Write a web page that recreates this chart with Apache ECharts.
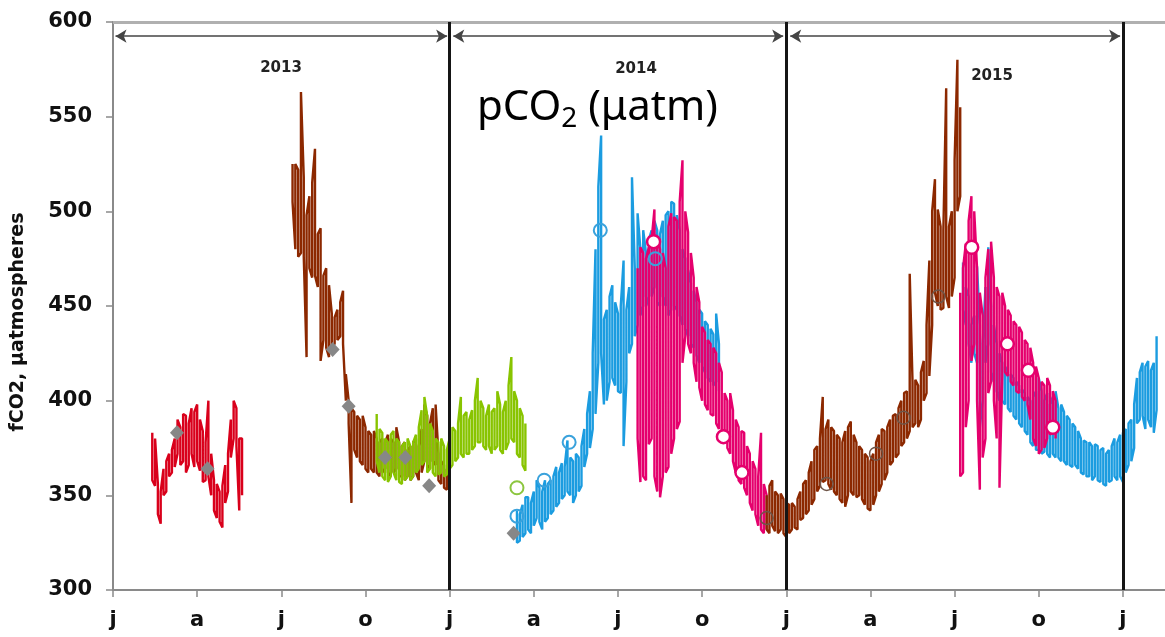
<!DOCTYPE html>
<html lang="en">
<head>
<meta charset="UTF-8">
<title>fCO2</title>
<script src="https://cdn.jsdelivr.net/npm/echarts@6/dist/echarts.min.js"></script>
<style>
    html, body { margin: 0; padding: 0; background: #fff; }
    #chart { width: 1165px; height: 637px; }
</style>
</head>
<body>
<div id="chart"></div>
<script>
// x = months since January 2013; each record gives the high and low of the trace every 0.1 month
const step = 0.1;
const monthLabels = ['j', 'a', 'j', 'o'];
const yearLabels = ['2013', '2014', '2015'];

const red2013Start = 1.4;
const red2013Hi = [383, 380, 356, 352, 364, 368, 372, 374, 380, 390, 386, 393, 392, 388, 396, 394, 398, 390, 384, 378,
    400, 372, 358, 356, 352, 355, 366, 372, 390, 400, 396, 380, 380];
const red2013Lo = [358, 355, 340, 335, 350, 352, 360, 362, 365, 372, 366, 368, 362, 366, 372, 365, 368, 363, 357, 358,
    360, 350, 342, 338, 336, 333, 346, 352, 370, 380, 376, 342, 350];

const brown2013Start = 6.4;
const brown2013Hi = [525, 525, 522, 563, 518, 498, 508, 515, 533, 488, 491, 466, 470, 461, 446, 444, 448, 452, 458, 414,
    400, 396, 394, 392, 390, 392, 386, 384, 382, 384, 380, 378, 380, 378, 382, 380, 378, 386, 378, 376,
    378, 374, 376, 378, 380, 376, 385, 398, 392, 388, 396, 398, 372, 368, 366, 364];
const brown2013Lo = [505, 480, 476, 478, 476, 423, 470, 465, 466, 460, 421, 432, 428, 423, 428, 430, 432, 434, 430, 400,
    388, 346, 374, 370, 368, 366, 364, 362, 364, 362, 362, 360, 362, 364, 362, 360, 362, 364, 360, 360,
    358, 360, 358, 360, 362, 358, 362, 368, 366, 364, 368, 366, 358, 356, 354, 353];

const green2013Start = 9.4;
const green2013Hi = [393, 385, 383, 380, 378, 382, 384, 380, 378, 376, 378, 380, 376, 378, 382, 386, 395, 402, 392, 388,
    384, 380, 378, 380, 376, 374, 380, 386, 384, 388, 402, 392, 394, 390, 395, 400, 412, 400, 396, 392,
    398, 394, 396, 405, 398, 394, 400, 408, 423, 405, 400, 396, 392, 388];
const green2013Lo = [368, 362, 360, 358, 357, 360, 362, 358, 357, 356, 358, 360, 358, 360, 362, 364, 366, 368, 362, 364,
    362, 360, 361, 362, 360, 361, 364, 366, 368, 370, 372, 370, 372, 372, 374, 376, 378, 378, 376, 374,
    376, 372, 374, 376, 374, 372, 374, 378, 380, 378, 372, 370, 366, 363];

const blue2014Start = 14.4;
const blue2014Hi = [342, 340, 345, 349, 349, 346, 352, 358, 354, 352, 358, 356, 358, 360, 365, 362, 367, 365, 379, 370,
    368, 372, 370, 376, 385, 393, 405, 425, 480, 513, 540, 443, 448, 455, 461, 452, 446, 450, 474, 448,
    460, 518, 470, 499, 480, 490, 478, 485, 490, 495, 490, 488, 495, 498, 500, 505, 504, 498, 490, 480,
    475, 469, 462, 458, 452, 448, 446, 442, 440, 438, 435, 446, 430];
const blue2014Lo = [325, 326, 328, 330, 332, 330, 334, 338, 336, 332, 336, 338, 340, 342, 344, 346, 348, 350, 352, 350,
    346, 350, 352, 355, 365, 372, 375, 385, 393, 420, 425, 398, 400, 410, 412, 408, 405, 404, 376, 410,
    425, 430, 434, 440, 445, 450, 455, 450, 455, 460, 452, 450, 455, 450, 445, 448, 450, 448, 445, 440,
    438, 434, 430, 428, 424, 420, 418, 415, 412, 410, 408, 410, 405];

const magenta2014Start = 18.7;
const magenta2014Hi = [470, 481, 478, 475, 481, 485, 501, 487, 480, 478, 470, 492, 499, 497, 495, 505, 527, 500, 489, 478,
    465, 460, 452, 439, 436, 432, 430, 428, 425, 420, 415, 404, 400, 404, 395, 390, 386, 384, 383, 376,
    372, 368, 364, 360, 383, 356, 350];
const magenta2014Lo = [380, 357, 360, 358, 377, 380, 360, 352, 349, 360, 362, 365, 372, 380, 385, 389, 420, 434, 430, 425,
    420, 410, 407, 400, 398, 395, 393, 392, 388, 385, 381, 378, 375, 372, 368, 362, 358, 356, 354, 350,
    346, 342, 340, 334, 332, 330, 332];

const brown2015Start = 23.3;
const brown2015Hi = [350, 355, 358, 352, 350, 351, 348, 346, 345, 346, 344, 348, 352, 356, 358, 362, 368, 374, 376, 380,
    402, 385, 390, 386, 384, 382, 380, 378, 384, 386, 389, 382, 378, 376, 374, 372, 370, 368, 372, 378,
    382, 385, 384, 386, 390, 392, 393, 396, 400, 404, 405, 467, 410, 411, 408, 415, 421, 440, 474, 500,
    517, 501, 492, 490, 565, 492, 500, 527, 580, 555];
const brown2015Lo = [332, 330, 334, 331, 330, 332, 330, 328, 330, 332, 333, 332, 337, 338, 340, 342, 345, 348, 352, 355,
    357, 358, 356, 353, 352, 350, 348, 346, 344, 350, 352, 350, 349, 350, 348, 345, 343, 342, 345, 350,
    352, 356, 358, 362, 366, 368, 370, 372, 376, 378, 380, 384, 386, 388, 386, 390, 400, 404, 413, 440,
    457, 450, 448, 449, 455, 449, 455, 465, 500, 508];

const blue2015Start = 30.3;
const blue2015Hi = [473, 460, 455, 440, 445, 471, 440, 430, 460, 481, 450, 440, 430, 425, 420, 418, 415, 414, 412, 410,
    408, 406, 404, 402, 400, 402, 405, 412, 405, 400, 404, 398, 402, 405, 396, 398, 394, 392, 390, 388,
    386, 384, 380, 379, 378, 378, 376, 377, 376, 374, 375, 372, 374, 376, 380, 378, 382, 383, 385, 388,
    390, 398, 412, 415, 420, 418, 421, 416, 420, 434];
const blue2015Lo = [448, 440, 430, 420, 425, 420, 386, 400, 420, 430, 415, 410, 405, 400, 400, 398, 396, 394, 392, 390,
    388, 386, 384, 382, 378, 376, 374, 374, 372, 373, 372, 370, 372, 370, 370, 368, 368, 366, 366, 365,
    366, 364, 362, 361, 360, 360, 358, 360, 358, 357, 356, 355, 357, 358, 360, 358, 360, 357, 362, 366,
    368, 375, 388, 390, 392, 385, 390, 386, 383, 395];

const magenta2015Start = 30.2;
const magenta2015Hi = [457, 470, 483, 495, 508, 500, 470, 457, 445, 465, 480, 484, 465, 460, 455, 457, 450, 448, 445, 442,
    440, 439, 436, 432, 430, 428, 420, 418, 412, 410, 408, 412, 408, 405, 400];
const magenta2015Lo = [360, 362, 386, 400, 421, 430, 400, 353, 370, 380, 404, 410, 400, 380, 354, 413, 415, 413, 410, 408,
    405, 404, 402, 400, 398, 390, 380, 376, 372, 374, 375, 380, 382, 384, 380];

// discrete samples [month, value]
const grayDiamonds = [[2.28, 383], [3.37, 364], [7.83, 427], [8.4, 397], [9.7, 370], [10.42, 370], [11.27, 355], [14.28, 330]];
const greenCircles = [[14.4, 354]];
const blueCircles = [[14.4, 339], [15.37, 358], [16.26, 378], [17.37, 490], [19.33, 475]];
const magentaCircles = [[19.27, 484], [21.76, 381], [22.42, 362], [30.61, 481], [31.88, 430], [32.63, 416], [33.5, 386]];
const brownCircles = [[23.3, 338], [25.44, 356], [27.2, 372], [28.18, 391], [29.42, 455]];

const chart = echarts.init(document.getElementById('chart'));

// snake up and down through each high/low reading so the trace reads as a dense band
function band(start, hi, lo) {
    const pts = [];
    hi.forEach((h, i) => {
        const x = Math.round((start + i * step) * 100) / 100;
        if (i % 2 === 0) {
            pts.push([x, h], [x, lo[i]]);
        } else {
            pts.push([x, lo[i]], [x, h]);
        }
    });
    return pts;
}

function trace(name, color, start, hi, lo) {
    return {
        name: name,
        type: 'line',
        data: band(start, hi, lo),
        showSymbol: false,
        symbol: 'none',
        lineStyle: { color: color, width: 2.4 },
        itemStyle: { color: color },
        silent: true
    };
}

function circles(name, data, fill, stroke, width) {
    return {
        name: name,
        type: 'scatter',
        data: data,
        symbol: 'circle',
        symbolSize: 13,
        itemStyle: { color: fill, borderColor: stroke, borderWidth: width, opacity: 1 },
        silent: true,
        z: 4
    };
}

const arrowLine = (from, to) => [
    { coord: [from, 592.5], symbol: 'arrow', symbolSize: [10, 11] },
    { coord: [to, 592.5], symbol: 'arrow', symbolSize: [10, 11], lineStyle: { color: '#444', width: 1.5 } }
];
const yearLine = m => [{ coord: [m, 600] }, { coord: [m, 300], lineStyle: { color: '#151515', width: 3 } }];

const yearPos = [[281, 68], [636, 69], [992, 76]];

const option = {
    animation: false,
    grid: { left: 113, right: 0, top: 22, bottom: 47, containLabel: false, outerBoundsMode: 'none' },
    xAxis: {
        type: 'value',
        min: 0,
        max: 37.5,
        interval: 3,
        axisLine: { lineStyle: { color: '#8a8a8a', width: 2 } },
        axisTick: { show: true, length: 7, lineStyle: { color: '#8a8a8a', width: 1.5 } },
        splitLine: { show: false },
        axisLabel: {
            formatter: v => Math.abs(v / 3 - Math.round(v / 3)) < 1e-6 ? monthLabels[Math.round(v / 3) % 4] : '',
            fontFamily: 'DejaVu Sans',
            fontWeight: 'bold',
            fontSize: 21,
            color: '#111',
            margin: 20,
            showMaxLabel: false
        }
    },
    yAxis: {
        type: 'value',
        min: 300,
        max: 600,
        interval: 50,
        axisLine: { show: true, lineStyle: { color: '#8a8a8a', width: 2 } },
        axisTick: { show: true, length: 7, lineStyle: { color: '#8a8a8a', width: 1.5 } },
        splitLine: { show: false },
        axisLabel: {
            fontFamily: 'DejaVu Sans',
            fontWeight: 'bold',
            fontSize: 21,
            color: '#111',
            margin: 21
        }
    },
    graphic: [
        {
            type: 'text', x: 18, y: 322, rotation: Math.PI / 2,
            style: { text: 'fCO2, μatmospheres', font: 'bold 19px "DejaVu Sans"', fill: '#111', align: 'center', verticalAlign: 'middle' }
        },
        {
            type: 'text', x: 477, y: 108,
            style: {
                text: '{a|pCO}{b|2}{a| (μatm)}',
                fill: '#000',
                align: 'left',
                verticalAlign: 'middle',
                rich: {
                    a: { font: '42px "Noto Sans"', fill: '#000' },
                    b: { font: '28px "Noto Sans"', fill: '#000', padding: [22, 0, 0, 0] }
                }
            }
        }
    ].concat(yearLabels.map((t, i) => ({
        type: 'text', x: yearPos[i][0], y: yearPos[i][1],
        style: { text: t, font: 'bold 15px "DejaVu Sans"', fill: '#222', align: 'center', verticalAlign: 'middle' }
    }))),
    series: [
        trace('red2013', '#d9001b', red2013Start, red2013Hi, red2013Lo),
        trace('brown2013', '#8c2800', brown2013Start, brown2013Hi, brown2013Lo),
        trace('green2013', '#88c400', green2013Start, green2013Hi, green2013Lo),
        trace('blue2014', '#1b9ce0', blue2014Start, blue2014Hi, blue2014Lo),
        trace('magenta2014', '#e5006d', magenta2014Start, magenta2014Hi, magenta2014Lo),
        trace('brown2015', '#8c2800', brown2015Start, brown2015Hi, brown2015Lo),
        trace('blue2015', '#1b9ce0', blue2015Start, blue2015Hi, blue2015Lo),
        trace('magenta2015', '#e5006d', magenta2015Start, magenta2015Hi, magenta2015Lo),
        {
            name: 'discrete',
            type: 'scatter',
            data: grayDiamonds,
            symbol: 'diamond',
            symbolSize: [14, 15],
            itemStyle: { color: '#878787', opacity: 1 },
            silent: true,
            z: 4
        },
        circles('green', greenCircles, '#fff', '#8cc63f', 2),
        circles('blue', blueCircles, 'rgba(255,255,255,0)', '#3aa2dc', 2),
        circles('magenta', magentaCircles, '#fff', '#e5006d', 2.5),
        circles('brown', brownCircles, 'rgba(255,255,255,0)', '#6e5548', 1.5),
        {
            name: 'annotations',
            type: 'line',
            data: [],
            silent: true,
            z: 5,
            markLine: {
                silent: true,
                animation: false,
                symbol: ['none', 'none'],
                label: { show: false },
                lineStyle: { color: '#151515', width: 3, type: 'solid' },
                data: [
                    [{ coord: [0, 600] }, { coord: [37.5, 600], lineStyle: { color: '#b0b0b0', width: 3 } }],
                    yearLine(12), yearLine(24), yearLine(36),
                    arrowLine(0.09, 11.91), arrowLine(12.13, 23.89), arrowLine(24.14, 35.9)
                ]
            }
        }
    ]
};

chart.setOption(option);
</script>
</body>
</html>
